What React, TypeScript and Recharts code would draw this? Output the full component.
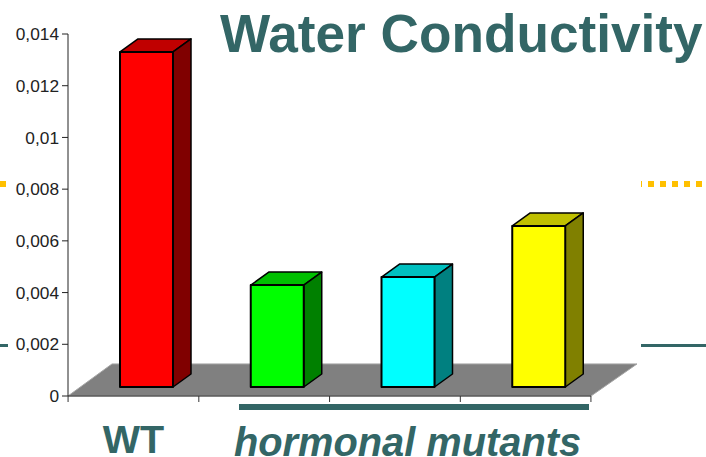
import { BarChart, Bar, XAxis, YAxis, ReferenceArea } from "recharts";

const categories = ["WT", "", "", ""];
const conductivity = [0.01296, 0.00394, 0.00425, 0.00623];
const yTicks = [0, 0.002, 0.004, 0.006, 0.008, 0.01, 0.012, 0.014];

const frontColors = ["#FF0000", "#00FF00", "#00FFFF", "#FFFF00"];
const topColors = ["#C00000", "#00C000", "#00C0C0", "#C0C000"];
const sideColors = ["#800000", "#008000", "#008080", "#808000"];

const TEAL = "#336666";
const ORANGE = "#FFC000";
const FONT = "'Liberation Sans', Arial, sans-serif";

const data = categories.map((name, i) => ({ name, value: conductivity[i] }));

// 3D look: depth of the box and how far bars are pushed onto the floor
const DEPTH_X = 18;
const DEPTH_Y = 13;
const SHIFT_X = 13;
const SHIFT_Y = 9;
const BAND = 130.6;

const Box3D = (props: any) => {
  const { x, y, width, height, index } = props;
  const left = x + SHIFT_X;
  const top = y - SHIFT_Y;
  const right = left + width;
  const bottom = top + height;
  return (
    <g stroke="#000" strokeWidth={1.5} strokeLinejoin="round">
      <polygon
        points={`${left},${top} ${left + DEPTH_X},${top - DEPTH_Y} ${right + DEPTH_X},${top - DEPTH_Y} ${right},${top}`}
        fill={topColors[index]}
      />
      <polygon
        points={`${right},${top} ${right + DEPTH_X},${top - DEPTH_Y} ${right + DEPTH_X},${bottom - DEPTH_Y} ${right},${bottom}`}
        fill={sideColors[index]}
      />
      <rect x={left} y={top} width={width} height={height} fill={frontColors[index]} strokeWidth={2} />
    </g>
  );
};

const Floor = (props: any) => {
  const { x, y, width, height } = props;
  const backLeft = x + 44;
  const backRight = x + width + 46;
  const bottom = y + height;
  return (
    <polygon
      points={`${x},${bottom} ${backLeft},${y} ${backRight},${y} ${x + width},${bottom}`}
      fill="#808080"
      stroke="#A6A6A6"
      strokeWidth={1}
    />
  );
};

// ticks sit on the band edges, the label stays on the band centre
// y comes in already pushed down by the axis tick offset
const CategoryTick = (props: any) => {
  const { x, y, payload, index } = props;
  const edge = x - BAND / 2;
  const axisY = y - 8;
  return (
    <g>
      <line x1={edge} x2={edge} y1={axisY} y2={axisY + 6} stroke="#333" strokeWidth={1} />
      {index === categories.length - 1 && (
        <line x1={edge + BAND} x2={edge + BAND} y1={axisY} y2={axisY + 6} stroke="#333" strokeWidth={1} />
      )}
      <text
        x={x}
        y={453}
        textAnchor="middle"
        fontFamily={FONT}
        fontWeight="bold"
        fontSize={39.5}
        fill={TEAL}
      >
        {payload.value}
      </text>
    </g>
  );
};

const App = () => {
  return (
    <div style={{ position: "absolute", left: 0, top: 0, width: 706, height: 457 }}>
      <BarChart
        width={706}
        height={457}
        data={data}
        barSize={53}
        margin={{ top: 34, right: 115, left: 0, bottom: 31 }}
      >
        <YAxis
          width={68}
          domain={[0, 0.014]}
          ticks={yTicks}
          interval={0}
          tickFormatter={(v: number) => String(v).replace(".", ",")}
          tickSize={6}
          tickMargin={3}
          stroke="#222"
          tick={{ fill: "#222", fontSize: 17.3, fontFamily: FONT }}
        />
        <XAxis
          dataKey="name"
          interval={0}
          height={30}
          tickLine={false}
          stroke="#333"
          tick={<CategoryTick />}
        />
        <ReferenceArea y1={0} y2={0.00124} ifOverflow="visible" shape={<Floor />} />
        <Bar dataKey="value" isAnimationActive={false} shape={<Box3D />} />

        <text x={220} y={52} fontFamily={FONT} fontWeight="bold" fontSize={53.2} fill={TEAL}>
          Water Conductivity
        </text>
        <text
          x={234}
          y={456}
          fontFamily={FONT}
          fontWeight="bold"
          fontStyle="italic"
          fontSize={39.8}
          fill={TEAL}
        >
          hormonal mutants
        </text>
        <rect x={239} y={404} width={350} height={6} fill={TEAL} />

        {/* bits of slide decoration left and right of the chart */}
        <rect x={0} y={181} width={6} height={6} fill={ORANGE} />
        <line
          x1={641}
          x2={706}
          y1={184}
          y2={184}
          stroke={ORANGE}
          strokeWidth={6}
          strokeDasharray="6 6"
          strokeDashoffset={5}
        />
        <rect x={0} y={344} width={8} height={3} fill={TEAL} />
        <rect x={641} y={344} width={65} height={3} fill={TEAL} />
      </BarChart>
    </div>
  );
};

export default App;
